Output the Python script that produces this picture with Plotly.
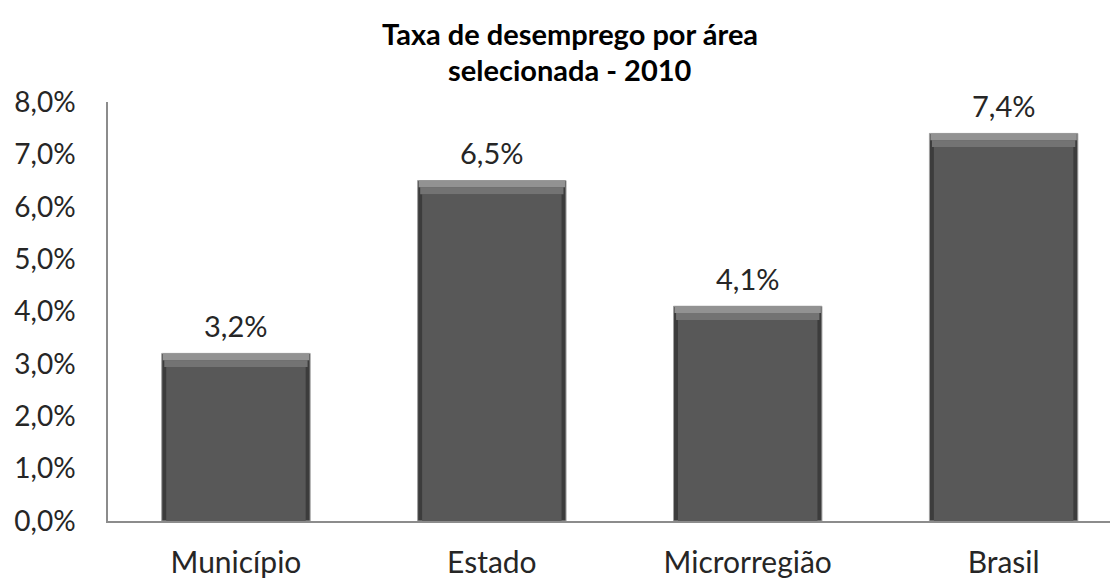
import plotly.graph_objects as go

categories = ["Município", "Estado", "Microrregião", "Brasil"]
values = [0.032, 0.065, 0.041, 0.074]
labels = ["3,2%", "6,5%", "4,1%", "7,4%"]
title_lines = ["Taxa de desemprego por área", "selecionada - 2010"]

FONT = "Lato"
bw = 0.58
b1 = 0.0013  # light top bevel
b2 = 0.0013  # mid bevel

fig = go.Figure()
# outer bar (dark sides + light outline)
fig.add_trace(go.Bar(x=categories, y=values, width=bw,
                     marker=dict(color="#3c3c3c", line=dict(color="#a0a0a0", width=1)),
                     hoverinfo="skip", showlegend=False))
# inner body
fig.add_trace(go.Bar(x=categories, y=[v - b1 - b2 for v in values], width=bw - 0.035,
                     marker=dict(color="#585858", line=dict(width=0)),
                     hoverinfo="skip", showlegend=False))
# mid bevel
fig.add_trace(go.Bar(x=categories, y=[b2] * len(values), base=[v - b1 - b2 for v in values],
                     width=bw - 0.02,
                     marker=dict(color="#737373", line=dict(width=0)),
                     hoverinfo="skip", showlegend=False))
# top bevel highlight
fig.add_trace(go.Bar(x=categories, y=[b1] * len(values), base=[v - b1 for v in values],
                     width=bw - 0.008,
                     marker=dict(color="#929292", line=dict(width=0)),
                     hoverinfo="skip", showlegend=False))

for c, v, t in zip(categories, values, labels):
    fig.add_annotation(x=c, y=v, text=t, showarrow=False, yanchor="middle", yshift=28,
                       font=dict(family=FONT, size=29, color="#262626"))

# title lines
title_y = [26, 61]
for line, ty in zip(title_lines, title_y):
    fig.add_annotation(text=line, xref="paper", yref="paper",
                       x=(562 - 100) / 1010, y=1 + (94 - ty) / 419,
                       xanchor="center", yanchor="middle", showarrow=False,
                       font=dict(family=FONT, size=29, color="#000000", weight="bold"))

fig.update_layout(
    width=1110, height=570,
    barmode="overlay",
    separators=",.",
    paper_bgcolor="white", plot_bgcolor="white",
    margin=dict(l=100, r=0, t=94, b=57),
    xaxis=dict(range=[-0.5, 3.447], showline=True, linecolor="#8c8c8c", linewidth=1.5,
               showgrid=False, ticks="", ticklabelstandoff=14, automargin=False,
               tickfont=dict(family=FONT, size=30, color="#262626")),
    yaxis=dict(range=[0, 0.08], dtick=0.01, tickformat=".1%", showline=True,
               linecolor="#8c8c8c", linewidth=1.5, showgrid=False, zeroline=False,
               ticks="", ticklabelstandoff=25, automargin=False,
               tickfont=dict(family=FONT, size=28, color="#262626")),
)

fig.write_html("out.html")
